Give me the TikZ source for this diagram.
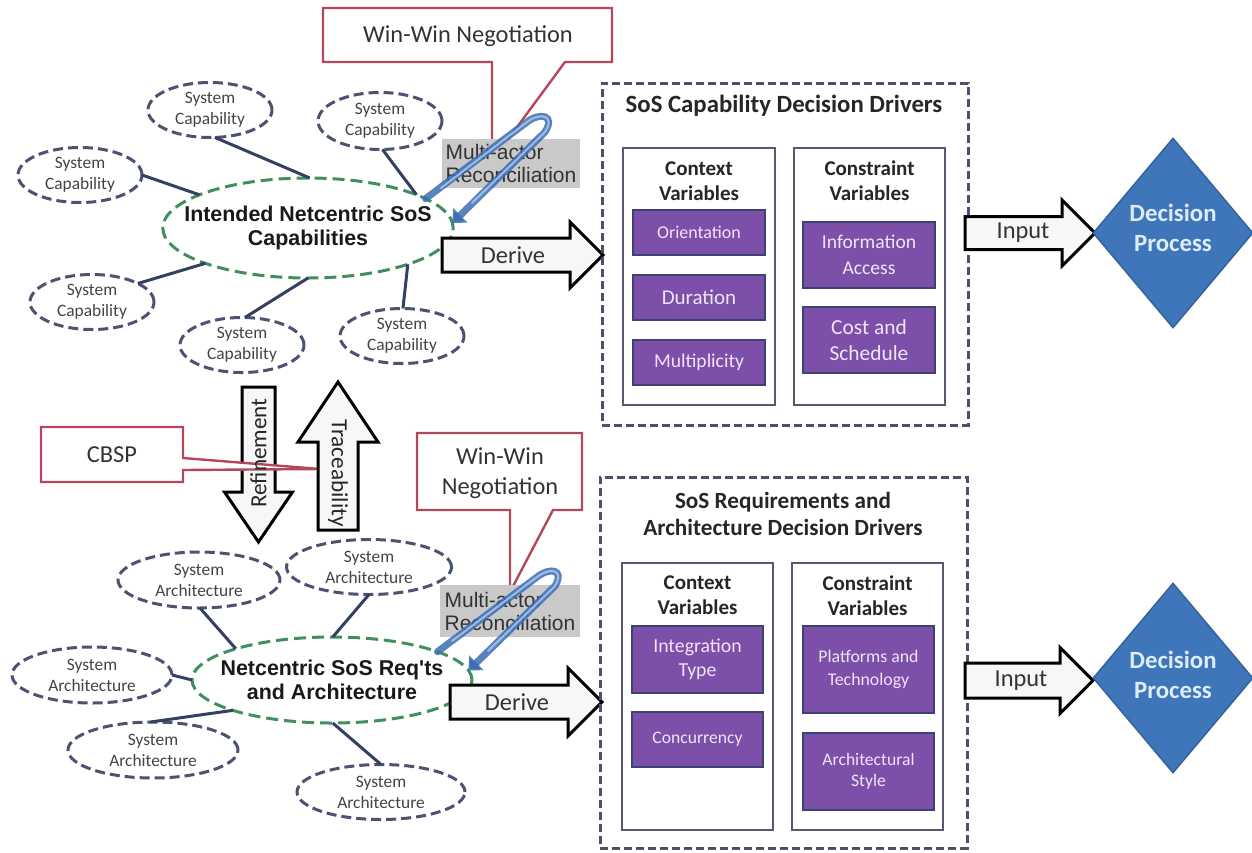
\documentclass[tikz,border=0pt]{standalone}
\usepackage{fontspec}
\setmainfont{Carlito}
\newfontfamily\arialf{Liberation Sans}
\usetikzlibrary{shapes.geometric,arrows.meta}

\definecolor{ellc}{HTML}{4B5272}
\definecolor{grn}{HTML}{3F8F5F}
\definecolor{linkc}{HTML}{34405F}
\definecolor{callc}{HTML}{B5475C}
\definecolor{grayf}{HTML}{C9C9C9}
\definecolor{txtdark}{HTML}{333333}
\definecolor{txtgray}{HTML}{444444}
\definecolor{bluea}{HTML}{3D6DB3}
\definecolor{blueh}{HTML}{A9C8EE}
\definecolor{arrowf}{HTML}{F7F7F7}
\definecolor{dboxc}{HTML}{4C506C}
\definecolor{iboxc}{HTML}{565A70}
\definecolor{pboxd}{HTML}{3E4272}
\definecolor{pboxf}{HTML}{7C50A8}
\definecolor{ptxt}{HTML}{EFE4F7}
\definecolor{decf}{HTML}{3F76B9}
\definecolor{decd}{HTML}{33629C}
\definecolor{dect}{HTML}{DCECFA}

\tikzset{
  sysell/.style={ellipse, draw=ellc, line width=3pt, dash pattern=on 10pt off 5pt,
    fill=white, inner sep=0pt, outer sep=0pt, minimum height=55pt, align=center,
    font=\fontsize{17.4}{21}\selectfont, text=txtgray},
  mainell/.style={ellipse, draw=grn, line width=3pt, dash pattern=on 12pt off 6pt,
    fill=white, inner sep=0pt, outer sep=0pt, align=center,
    font=\arialf\bfseries\fontsize{21.4}{24}\selectfont, text=black!90},
  link/.style={draw=linkc, line width=3pt},
  callout/.style={draw=callc, line width=2.4pt, fill=white, line join=miter},
  graybox/.style={fill=grayf, inner sep=1pt, align=left, text=txtdark,
    font=\arialf\fontsize{21}{23}\selectfont},
  hairpin/.style={draw=bluea, draw opacity=0.85, line width=7pt, line cap=round,
    -{Triangle[width=20pt,length=11pt]}},
  highlight/.style={draw=blueh, draw opacity=0.85, line width=2pt, line cap=round},
  blockarrow/.style={draw=black, line width=3pt, fill=arrowf, line join=miter},
  dbox/.style={draw=dboxc, line width=3pt, dash pattern=on 8pt off 4pt,
    inner sep=0pt, outer sep=0pt},
  ibox/.style={draw=iboxc, line width=2pt, fill=white, inner sep=0pt},
  pbox/.style={draw=pboxd, line width=2.5pt, fill=pboxf, text=ptxt, align=center,
    inner sep=0pt, minimum width=132pt},
  head/.style={font=\bfseries\fontsize{21}{25}\selectfont, align=center, text=black!85},
  title/.style={font=\bfseries\fontsize{24.8}{27}\selectfont, align=center, text=black!85},
  dec/.style={diamond, fill=decf, draw=decd, line width=1.5pt, minimum width=160pt,
    minimum height=190pt, inner sep=0pt},
  dectext/.style={font=\bfseries\fontsize{24.8}{30}\selectfont, text=dect, align=center},
  lbl/.style={font=\fontsize{24.4}{28}\selectfont, text=black!80, align=center},
  vlbl/.style={font=\fontsize{23.2}{26}\selectfont, text=black!85},
}

\begin{document}
\begin{tikzpicture}[x=1pt,y=-1pt]
\useasboundingbox (0,0) rectangle (1252,852);

% ---------- negotiation callouts ----------
\draw[callout] (323,8) -- (612,8) -- (612,62) -- (565,62) -- (492,161) -- (492,62) -- (323,62) -- cycle;
\node[lbl] (ww1) at (468,36) {Win-Win Negotiation};
\draw[callout] (417,433) -- (582,433) -- (582,510) -- (553,510) -- (510,592) -- (510,510) -- (417,510) -- cycle;
\node[lbl, font=\fontsize{24.4}{30}\selectfont] (ww2) at (500,473) {Win-Win\\Negotiation};

% ---------- capability cluster ----------
\node[sysell, minimum width=124pt] (s1) at (210,110) {System\\Capability};
\node[sysell, minimum width=124pt, minimum height=57pt] (s2) at (380,121) {System\\Capability};
\node[sysell, minimum width=124pt] (s3) at (80,175) {System\\Capability};
\node[sysell, minimum width=124pt] (s4) at (92,302) {System\\Capability};
\node[sysell, minimum width=124pt] (s5) at (242,345) {System\\Capability};
\node[sysell, minimum width=124pt] (s6) at (402,336) {System\\Capability};
\node[mainell, inner xsep=-21pt, minimum width=290pt, minimum height=100pt] (A) at (308,228) {Intended Netcentric SoS\\Capabilities};
\draw[link] (s1.-80) -- (A.88);
\draw[link] (s2.-85) -- (A.17);
\draw[link] (s3.0) -- (A.163);
\draw[link] (s4.22) -- (A.-161);
\draw[link] (s5.84) -- (A.-90);
\draw[link] (s6.88) -- (A.-20);

% ---------- architecture cluster ----------
\node[sysell, minimum width=162pt, minimum height=56pt] (a1) at (199,580) {System\\Architecture};
\node[sysell, minimum width=165pt] (a2) at (369,567) {System\\Architecture};
\node[sysell, minimum width=160pt, minimum height=56pt] (a3) at (92,675) {System\\Architecture};
\node[sysell, minimum width=170pt, minimum height=56pt] (a4) at (153,750) {System\\Architecture};
\node[sysell, minimum width=168pt] (a5) at (381,792) {System\\Architecture};
\node[mainell, inner xsep=-13pt, minimum width=280pt, minimum height=86pt] (B) at (332,680) {Netcentric SoS Req'ts\\and Architecture};
\draw[link] (a1.-88) -- (B.162);
\draw[link] (a2.-90) -- (B.89);
\draw[link] (a3.0) -- (B.180);
\draw[link] (a4.95) -- (B.-163);
\draw[link] (a5.90) -- (B.-89);

% ---------- multi-actor reconciliation ----------
\node[graybox, minimum width=138pt, minimum height=49pt] (mar1) at (511,163.5) {Multi-actor\\Reconciliation};
\node[graybox, minimum width=140pt, minimum height=52pt] (mar2) at (510,611) {Multi-actor\\Reconciliation};

\coordinate (h1s) at (441,188);
\coordinate (h1a) at (527,122);
\coordinate (h1b) at (545,132);
\coordinate (h1e) at (472,203);
\draw[hairpin] (A.14) -- (h1a) .. controls (540,112) and (556,115) .. (h1b) -- (A.2);
\draw[highlight] (h1s) -- (h1a) .. controls (540,112) and (556,115) .. (h1b) -- (h1e);

\coordinate (h2s) at (452,641);
\coordinate (h2a) at (537,577);
\coordinate (h2b) at (555,586);
\coordinate (h2e) at (488,651);
\draw[hairpin] (B.15) -- (h2a) .. controls (550,567) and (565,569) .. (h2b) -- (B.4);
\draw[highlight] (h2s) -- (h2a) .. controls (550,567) and (565,569) .. (h2b) -- (h2e);

% ---------- derive arrows ----------
\coordinate (dv1) at (442,255);
\draw[blockarrow] (dv1) ++(0,-17) -- ++(128,0) -- ++(0,-16) -- ++(33,33) -- ++(-33,33) -- ++(0,-16) -- ++(-128,0) -- cycle;
\node[lbl] (dv1t) at (513,255) {Derive};
\coordinate (dv2) at (450,702);
\draw[blockarrow] (dv2) ++(0,-17) -- ++(118,0) -- ++(0,-17) -- ++(34,34) -- ++(-34,34) -- ++(0,-17) -- ++(-118,0) -- cycle;
\node[lbl] (dv2t) at (517,702) {Derive};

% ---------- refinement / traceability with CBSP ----------
\coordinate (rf) at (242,387);
\draw[blockarrow] (rf) -- ++(33,0) -- ++(0,105) -- ++(17.5,0) -- ++(-34,50) -- ++(-34,-50) -- ++(17.5,0) -- cycle;

\draw[callout] (41,427) -- (183,427) -- (183,458) -- (320,469) -- (183,470) -- (183,482) -- (41,482) -- cycle;
\node[lbl] (cbsp) at (112,455) {CBSP};
\node[vlbl, rotate=90] (rft) at (258.5,453) {Refinement};

\coordinate (tr) at (318,530);
\draw[blockarrow] (tr) -- ++(40,0) -- ++(0,-88) -- ++(20,0) -- ++(-40,-60) -- ++(-40,60) -- ++(20,0) -- cycle;
\node[vlbl, rotate=-90] (trt) at (338,473) {Traceability};

% ---------- capability decision drivers ----------
\node[dbox, minimum width=366pt, minimum height=342pt] (D1) at (785,254) {};
\node[title] (D1t) at (784,106) {SoS Capability Decision Drivers};
\node[ibox, minimum width=152pt, minimum height=257pt] (C1) at (699,276.5) {};
\node[head] (C1h) at (699,181) {Context\\Variables};
\node[ibox, minimum width=151pt, minimum height=257pt] (K1) at (869.5,276.5) {};
\node[head] (K1h) at (869.5,181) {Constraint\\Variables};
\node[pbox, minimum height=45pt, font=\fontsize{18}{22}\selectfont] (p1) at (699,232.5) {Orientation};
\node[pbox, minimum height=45pt, font=\fontsize{21}{24}\selectfont] (p2) at (699,297.5) {Duration};
\node[pbox, minimum height=45pt, font=\fontsize{19.6}{23}\selectfont] (p3) at (699,362.5) {Multiplicity};
\node[pbox, minimum height=66pt, font=\fontsize{19.6}{26}\selectfont] (p4) at (869,255) {Information\\Access};
\node[pbox, minimum height=66pt, font=\fontsize{21.4}{26}\selectfont] (p5) at (869,340) {Cost and\\Schedule};

% ---------- requirements and architecture decision drivers ----------
\node[dbox, minimum width=367pt, minimum height=371pt] (D2) at (783.5,662.5) {};
\node[title, font=\bfseries\fontsize{23.2}{27}\selectfont] (D2t) at (783,513.5) {SoS Requirements and\\Architecture Decision Drivers};
\node[ibox, minimum width=151pt, minimum height=267pt] (C2) at (697.5,696.5) {};
\node[head] (C2h) at (697.5,595.5) {Context\\Variables};
\node[ibox, minimum width=151pt, minimum height=267pt] (K2) at (867.5,696.5) {};
\node[head] (K2h) at (867.5,595.5) {Constraint\\Variables};
\node[pbox, minimum width=131pt, minimum height=67pt, font=\fontsize{19.8}{24}\selectfont] (q1) at (697.5,659.5) {Integration\\Type};
\node[pbox, minimum width=131pt, minimum height=55pt, font=\fontsize{17.6}{21}\selectfont] (q2) at (697.5,739.5) {Concurrency};
\node[pbox, minimum width=131pt, minimum height=87pt, font=\fontsize{17.8}{23}\selectfont] (q3) at (868.5,669.5) {Platforms and\\Technology};
\node[pbox, minimum width=131pt, minimum height=77pt, font=\fontsize{17.6}{21}\selectfont] (q4) at (868.5,771.5) {Architectural\\Style};

% ---------- input arrows and decision process ----------
\coordinate (in1) at (965,233);
\draw[blockarrow] (in1) ++(0,-16.5) -- ++(97,0) -- ++(0,-16.5) -- ++(33,33) -- ++(-33,33) -- ++(0,-16.5) -- ++(-97,0) -- cycle;
\node[lbl] (in1t) at (1023,233) {Input};
\coordinate (in2) at (965,680.5);
\draw[blockarrow] (in2) ++(0,-17.5) -- ++(95,0) -- ++(0,-15.5) -- ++(33,33) -- ++(-33,33) -- ++(0,-15.5) -- ++(-95,0) -- cycle;
\node[lbl] (in2t) at (1021,681) {Input};

\node[dec] (dp1) at (1173,233) {};
\node[dectext] (dp1t) at (1173,228) {Decision\\Process};
\node[dec] (dp2) at (1173,678) {};
\node[dectext] (dp2t) at (1173,675) {Decision\\Process};
\end{tikzpicture}
\end{document}
